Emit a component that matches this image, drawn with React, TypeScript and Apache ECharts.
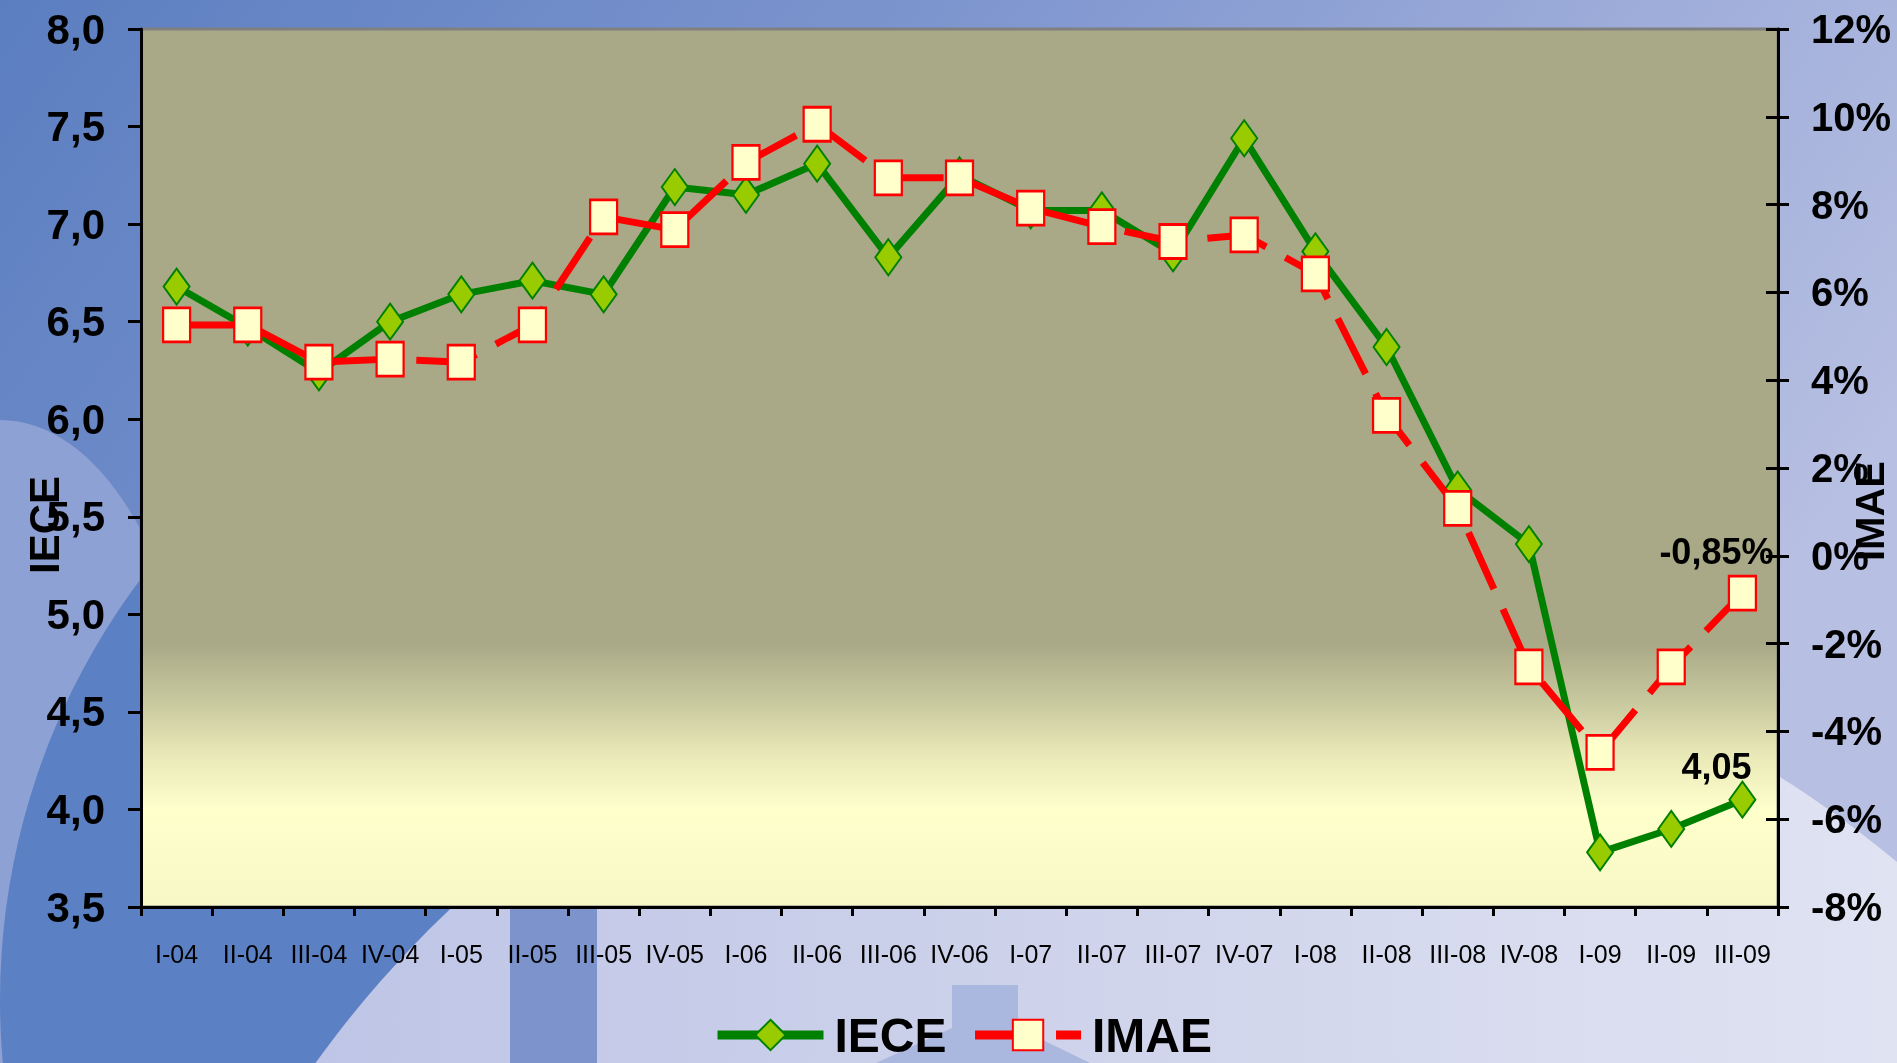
import React, { useEffect, useRef } from 'react';
import * as echarts from 'echarts';

const categories = ['I-04', 'II-04', 'III-04', 'IV-04', 'I-05', 'II-05', 'III-05', 'IV-05', 'I-06', 'II-06', 'III-06', 'IV-06', 'I-07', 'II-07', 'III-07', 'IV-07', 'I-08', 'II-08', 'III-08', 'IV-08', 'I-09', 'II-09', 'III-09'];
const ieceValues = [6.68, 6.47, 6.24, 6.5, 6.64, 6.71, 6.64, 7.19, 7.15, 7.31, 6.83, 7.25, 7.07, 7.07, 6.85, 7.44, 6.86, 6.37, 5.64, 5.36, 3.78, 3.9, 4.05];
const imaeValues = [5.26, 5.26, 4.41, 4.48, 4.41, 5.26, 7.72, 7.43, 8.96, 9.83, 8.61, 8.61, 7.92, 7.5, 7.16, 7.31, 6.42, 3.2, 1.08, -2.53, -4.48, -2.53, -0.85];
const leftAxisRange = [3.5, 8, 0.5];
const rightAxisRange = [-8, 12, 2];
const seriesNames = ['IECE', 'IMAE'];

const FONT = "'Liberation Sans', Arial, sans-serif";

const W = 1897;
const H = 1063;

function buildOption() {
  const LG = echarts.graphic.LinearGradient;
  const lastI = ieceValues.length - 1;
  const labelBase = { color: '#000', fontSize: 36, fontWeight: 'bold', fontFamily: FONT };
  const ieceData = ieceValues.map((v, i) =>
    i === lastI
      ? { value: v, label: { show: true, position: 'inside', offset: [-26, -33], formatter: v.toFixed(2).replace('.', ','), ...labelBase } }
      : v
  );
  const imaeData = imaeValues.map((v, i) =>
    i === lastI
      ? { value: v, label: { show: true, position: 'inside', offset: [-26, -42], formatter: v.toFixed(2).replace('.', ',') + '%', ...labelBase } }
      : v
  );

  return {
    animation: false,
    backgroundColor: 'transparent',
    textStyle: { fontFamily: FONT },
    graphic: [
      {
        type: 'rect', z: -10, silent: true,
        shape: { x: 0, y: 0, width: W, height: H },
        style: {
          fill: new LG(0, 0, 1, 0.4, [
            { offset: 0, color: '#5B7EC0' },
            { offset: 0.45, color: '#7F96CF' },
            { offset: 1, color: '#B7BFE2' },
          ]),
        },
      },
      {
        type: 'ellipse', z: -9, silent: true,
        shape: { cx: 0, cy: 800, rx: 200, ry: 380 },
        style: { fill: '#8EA1D4' },
      },
      {
        type: 'circle', z: -8, silent: true,
        shape: { cx: 700, cy: 1000, r: 700 },
        style: { fill: '#5C80C4' },
      },
      {
        type: 'circle', z: -7, silent: true,
        shape: { cx: 1200, cy: 1700, r: 1090 },
        style: {
          fill: new LG(0, 0, 1, 0, [
            { offset: 0, color: '#BAC1E4' },
            { offset: 0.6, color: '#D6DAEE' },
            { offset: 1, color: '#E8EAF5' },
          ]),
        },
      },
      {
        type: 'rect', z: -6, silent: true,
        shape: { x: 510, y: 880, width: 87, height: 200 },
        style: { fill: '#7D93CC' },
      },
      {
        type: 'polygon', z: -6, silent: true,
        shape: { points: [[952, 985], [1018, 985], [1018, 1028], [1090, 1063], [876, 1063], [952, 1028]] },
        style: { fill: '#AAB7DF' },
      },
      {
        type: 'text', z: 100, x: 44, y: 525, rotation: Math.PI / 2,
        style: { text: 'IECE', fill: '#000', fontSize: 42, fontWeight: 'bold', fontFamily: FONT, align: 'center', verticalAlign: 'middle' },
      },
      {
        type: 'text', z: 100, x: 1870, y: 511, rotation: Math.PI / 2,
        style: { text: 'IMAE', fill: '#000', fontSize: 40, fontWeight: 'bold', fontFamily: FONT, align: 'center', verticalAlign: 'middle' },
      },
    ],
    grid: {
      left: 141, right: 119, top: 29, bottom: 156,
      show: true,
      borderColor: '#808080',
      borderWidth: 3,
      backgroundColor: new LG(0, 0, 0, 1, [
        { offset: 0, color: '#A9A987' },
        { offset: 0.7, color: '#A9A987' },
        { offset: 0.78, color: '#CFCFA4' },
        { offset: 0.83, color: '#EAEAB9' },
        { offset: 0.89, color: '#FFFFCC' },
        { offset: 1, color: '#F7F7C6' },
      ]),
    },
    legend: {
      left: 708, top: 1006,
      itemWidth: 106, itemHeight: 38, itemGap: 24,
      data: seriesNames,
      lineStyle: { width: 9 },
      textStyle: { fontSize: 48, fontWeight: 'bold', color: '#000', fontFamily: FONT, padding: [0, 0, 0, 6] },
    },
    xAxis: {
      type: 'category',
      data: categories,
      boundaryGap: true,
      axisLine: { show: true, onZero: false, lineStyle: { color: '#000', width: 3 } },
      axisTick: { show: true, length: 9, lineStyle: { color: '#000', width: 3 } },
      axisLabel: { color: '#000', fontSize: 25, fontFamily: FONT, margin: 34, interval: 0 },
      splitLine: { show: false },
    },
    yAxis: [
      {
        type: 'value', position: 'left',
        min: leftAxisRange[0], max: leftAxisRange[1], interval: leftAxisRange[2],
        axisLine: { show: true, onZero: false, lineStyle: { color: '#000', width: 3 } },
        axisTick: { show: true, length: 13, lineStyle: { color: '#000', width: 3 } },
        axisLabel: {
          color: '#000', fontSize: 42, fontWeight: 'bold', fontFamily: FONT, margin: 36,
          formatter: (v: number) => v.toFixed(1).replace('.', ','),
        },
        splitLine: { show: false },
      },
      {
        type: 'value', position: 'right',
        min: rightAxisRange[0], max: rightAxisRange[1], interval: rightAxisRange[2],
        axisLine: { show: true, onZero: false, lineStyle: { color: '#000', width: 3 } },
        axisTick: { show: true, length: 11, lineStyle: { color: '#000', width: 3 } },
        axisLabel: {
          color: '#000', fontSize: 40, fontWeight: 'bold', fontFamily: FONT, margin: 33,
          formatter: (v: number) => `${v}%`,
        },
        splitLine: { show: false },
      },
      {
        type: 'value', position: 'right',
        min: rightAxisRange[0], max: rightAxisRange[1], interval: rightAxisRange[2],
        axisLine: { show: false },
        axisTick: { show: true, inside: true, length: 12, lineStyle: { color: '#000', width: 3 } },
        axisLabel: { show: false },
        splitLine: { show: false },
      },
    ],
    series: [
      {
        name: seriesNames[0],
        type: 'line',
        yAxisIndex: 0,
        data: ieceData,
        symbol: 'diamond',
        symbolSize: [26, 36],
        lineStyle: { color: '#008000', width: 7 },
        itemStyle: { color: '#99CC00', borderColor: '#008000', borderWidth: 2 },
        z: 3,
      },
      {
        name: seriesNames[1],
        type: 'line',
        yAxisIndex: 1,
        data: imaeData,
        symbol: 'rect',
        symbolSize: [27, 34],
        lineStyle: { color: '#FF0000', width: 7, type: [62, 22], dashOffset: 3 },
        itemStyle: { color: '#FFFFCC', borderColor: '#FF0000', borderWidth: 2.5 },
        z: 4,
      },
    ],
  };
}

export default function App() {
  const ref = useRef<HTMLDivElement>(null);
  useEffect(() => {
    if (!ref.current) return;
    const chart = echarts.init(ref.current, null, { renderer: 'svg' });
    chart.setOption(buildOption() as any);
    return () => chart.dispose();
  }, []);
  return <div ref={ref} style={{ position: 'fixed', left: 0, top: 0, width: W, height: H }} />;
}
